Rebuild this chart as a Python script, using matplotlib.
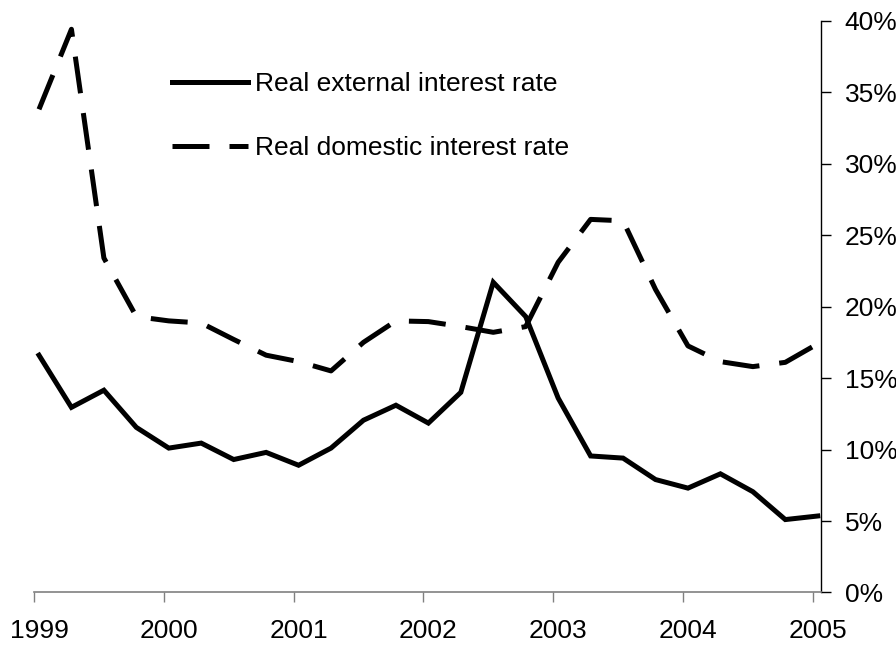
import numpy as np
import matplotlib.pyplot as plt
from matplotlib.ticker import FixedLocator, FuncFormatter

# ==========================================================
# DATA (quarterly, 1999 Q1 .. 2005 Q1)
# ==========================================================

external_rate = [
    16.6, 12.95, 14.15, 11.55, 10.1, 10.45, 9.3, 9.8, 8.9,
    10.1, 12.05, 13.1, 11.85, 14.0, 21.7, 19.3, 13.6, 9.55,
    9.4, 7.9, 7.3, 8.3, 7.05, 5.1, 5.35
]

domestic_rate = [
    33.8, 39.4, 23.4, 19.3, 19.0, 18.85, 17.7, 16.6, 16.15,
    15.5, 17.5, 19.0, 18.95, 18.6, 18.2, 18.6, 23.1, 26.1,
    26.0, 21.2, 17.25, 16.15, 15.8, 16.1, 17.4
]

year_labels = ["1999", "2000", "2001", "2002", "2003", "2004", "2005"]

# ==========================================================
# PLOT
# ==========================================================

plt.rcParams["font.family"] = ["Liberation Sans", "DejaVu Sans"]

FS = 19

fig = plt.figure(figsize=(8.96, 6.49), dpi=100)
ax = fig.add_axes([0.0379, 0.0871, 0.8784, 0.8810])

x = np.arange(len(external_rate))

ax.plot(
    x, external_rate,
    color="black", linewidth=3.6,
    solid_joinstyle="miter",
    label="Real external interest rate"
)

ax.plot(
    x, domestic_rate,
    color="black", linewidth=3.6,
    dashes=(7.4, 4.0),
    dash_capstyle="butt",
    label="Real domestic interest rate"
)

ax.set_ylim(0, 40)
ax.set_xlim(-0.155, 24.1)

# right-hand percentage axis
ax.yaxis.tick_right()
ax.yaxis.set_label_position("right")
ax.set_yticks(np.arange(0, 41, 5))
ax.yaxis.set_major_formatter(FuncFormatter(lambda v, p: f"{v:.0f}%"))
ax.tick_params(axis="y", direction="out", length=7, width=1,
               labelsize=FS, pad=10, colors="black")

# category style x axis: ticks between, labels on points
tick_pos = [4 * k - 0.155 for k in range(len(year_labels))]
label_pos = [4 * k for k in range(len(year_labels))]
ax.xaxis.set_major_locator(FixedLocator(tick_pos))
ax.xaxis.set_major_formatter(FuncFormatter(lambda v, p: ""))
ax.xaxis.set_minor_locator(FixedLocator(label_pos))
ax.set_xticklabels(year_labels, minor=True)
ax.tick_params(axis="x", which="major", direction="out", length=7,
               width=1, color="#808080")
ax.tick_params(axis="x", which="minor", length=0, labelsize=FS, pad=19)

for side in ["left", "top"]:
    ax.spines[side].set_visible(False)
ax.spines["bottom"].set_color("#808080")
ax.spines["bottom"].set_linewidth(1.2)
ax.spines["right"].set_color("black")
ax.spines["right"].set_linewidth(1)

ax.legend(
    loc="upper left",
    bbox_to_anchor=(0.175, 0.910),
    frameon=False,
    fontsize=FS,
    handlelength=2.88,
    handletextpad=0.27,
    labelspacing=1.5,
    borderpad=0,
    borderaxespad=0
)

plt.savefig("out.png", dpi=100)
